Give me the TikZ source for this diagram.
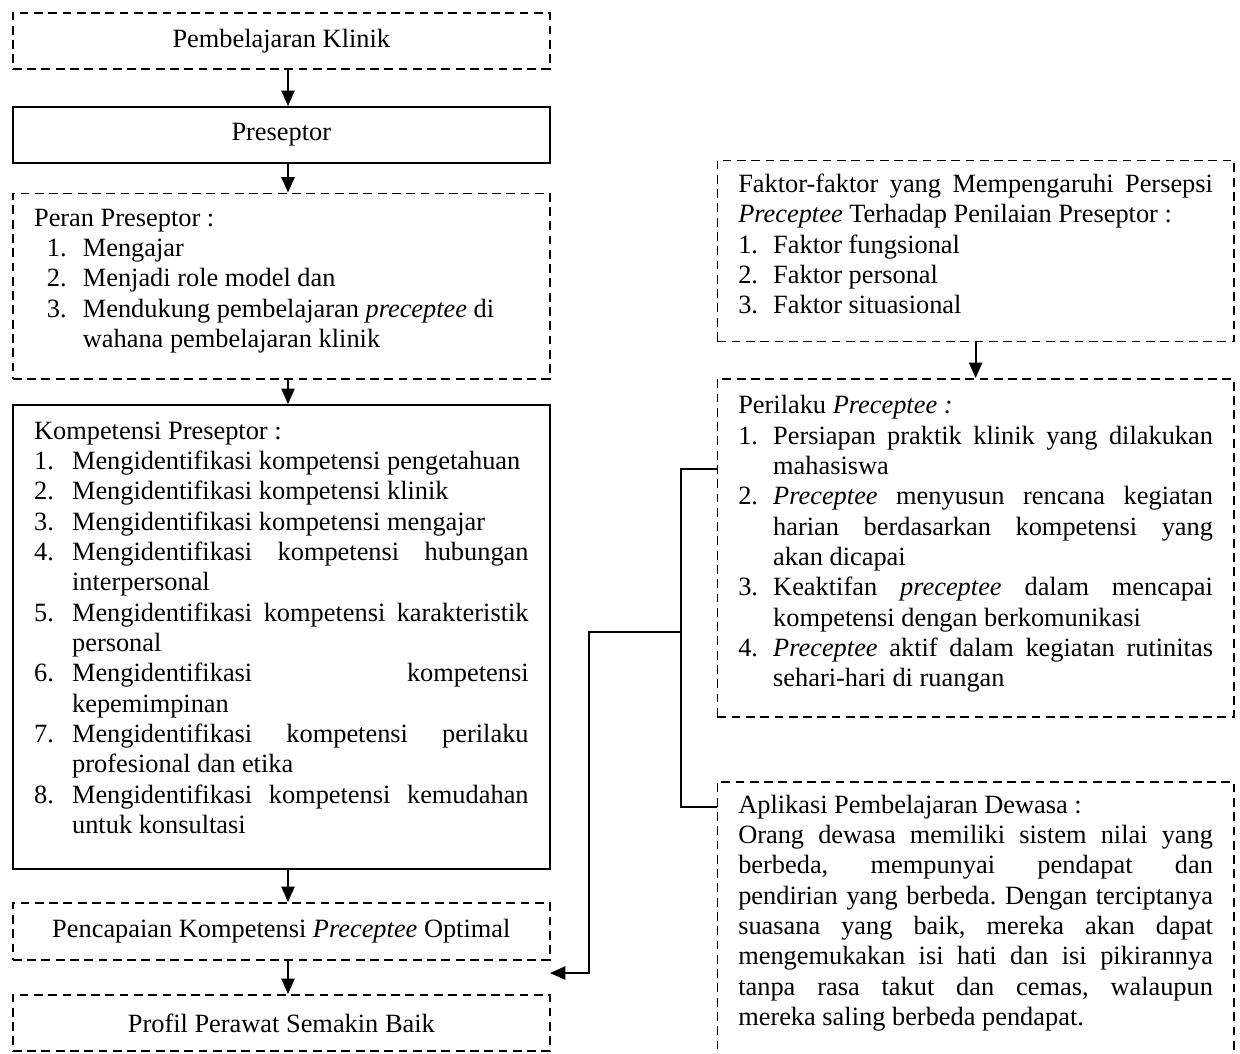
\documentclass[tikz,border=0pt]{standalone}
\usepackage{fontspec}
\setmainfont{Liberation Serif}
\usetikzlibrary{arrows.meta}
\tikzset{>={Triangle[length=7pt,width=6pt]}}
\tikzset{
	boxline/.style={draw,line width=0.8pt,anchor=north west,inner ysep=0pt,
		font=\fontsize{12}{13.8}\selectfont},
	solidbox/.style={boxline},
	dashbox/.style={boxline,dash pattern=on 4pt off 2.5pt},
	onerow/.style={minimum width=244.3pt,inner xsep=0pt},
	conn/.style={line width=0.8pt},
}
\newcommand{\nitem}[3]{\par\noindent\hangindent=#2\hangafter=1\hspace*{#1}\makebox[\dimexpr#2-#1\relax][l]{#3}\ignorespaces}
\hyphenpenalty=10000 \exhyphenpenalty=10000 \tolerance=10000 \hbadness=10000
\frenchspacing

\begin{document}
\begin{tikzpicture}[x=0.455pt,y=-0.455pt]
	\useasboundingbox (0,0) rectangle (1240,1053);
	\clip (0,0) rectangle (1240,1053);
	
	\node[dashbox,onerow,minimum height=25.5pt] (pk) at (12,12) {Pembelajaran Klinik};
	\node[solidbox,onerow,minimum height=25.5pt] (pre) at (12,106) {Preseptor};
	
	\node[dashbox,inner xsep=9.65pt] (per) at (12,192.5) {\parbox[t][84.4pt][t]{225pt}{\vspace*{5.3pt}\strut Peran Preseptor :
		\nitem{5.8pt}{22.2pt}{1.}Mengajar
		\nitem{5.8pt}{22.2pt}{2.}Menjadi role model dan
		\nitem{5.8pt}{22.2pt}{3.}Mendukung pembelajaran \textit{preceptee} di\newline wahana pembelajaran klinik}};
	
	\node[solidbox,inner xsep=9.65pt] (kom) at (12,404) {\parbox[t][211.1pt][t]{225pt}{\vspace*{6pt}\strut Kompetensi Preseptor :
		\nitem{0pt}{17.3pt}{1.}Mengidentifikasi kompetensi pengetahuan
		\nitem{0pt}{17.3pt}{2.}Mengidentifikasi kompetensi klinik
		\nitem{0pt}{17.3pt}{3.}Mengidentifikasi kompetensi mengajar
		\nitem{0pt}{17.3pt}{4.}Mengidentifikasi kompetensi hubungan\linebreak interpersonal
		\nitem{0pt}{17.3pt}{5.}Mengidentifikasi kompetensi karakteristik\linebreak personal
		\nitem{0pt}{17.3pt}{6.}Mengidentifikasi kompetensi\linebreak kepemimpinan
		\nitem{0pt}{17.3pt}{7.}Mengidentifikasi kompetensi perilaku\linebreak profesional dan etika
		\nitem{0pt}{17.3pt}{8.}Mengidentifikasi kompetensi kemudahan\linebreak untuk konsultasi}};
	
	\node[dashbox,onerow,minimum height=25.9pt] (pcp) at (12,902) {Pencapaian Kompetensi \textit{Preceptee} Optimal};
	\node[dashbox,onerow,minimum height=25.5pt] (pro) at (12,994) {Profil Perawat Semakin Baik};
	
	\node[dashbox,inner xsep=9.5pt] (fak) at (716.5,159.5) {\parbox[t][82.4pt][t]{216pt}{\vspace*{5pt}\strut Faktor-faktor yang Mempengaruhi Persepsi\linebreak \textit{Preceptee} Terhadap Penilaian Preseptor :
		\nitem{0pt}{15.9pt}{1.}Faktor fungsional
		\nitem{0pt}{15.9pt}{2.}Faktor personal
		\nitem{0pt}{15.9pt}{3.}Faktor situasional}};
	
	\node[dashbox,inner xsep=9.5pt] (pri) at (716.5,378) {\parbox[t][153.8pt][t]{216pt}{\vspace*{6.3pt}\strut Perilaku \textit{Preceptee :}
		\nitem{0pt}{15.9pt}{1.}Persiapan praktik klinik yang dilakukan\linebreak mahasiswa
		\nitem{0pt}{15.9pt}{2.}\textit{Preceptee} menyusun rencana kegiatan\linebreak harian berdasarkan kompetensi yang\linebreak akan dicapai
		\nitem{0pt}{15.9pt}{3.}Keaktifan \textit{preceptee} dalam mencapai\linebreak kompetensi dengan berkomunikasi
		\nitem{0pt}{15.9pt}{4.}\textit{Preceptee} aktif dalam kegiatan rutinitas\linebreak sehari-hari di ruangan}};
	
	\node[dashbox,inner xsep=9.5pt] (apl) at (716.5,781) {\parbox[t][133.8pt][t]{216pt}{\vspace*{4.5pt}\strut Aplikasi Pembelajaran Dewasa :\par
		Orang dewasa memiliki sistem nilai yang\linebreak berbeda, mempunyai pendapat dan\linebreak pendirian yang berbeda. Dengan terciptanya\linebreak suasana yang baik, mereka akan dapat\linebreak mengemukakan isi hati dan isi pikirannya\linebreak tanpa rasa takut dan cemas, walaupun\linebreak mereka saling berbeda pendapat.}};
	
	\coordinate (ax) at (288,0);
	\draw[conn,->] (pk.south -| ax) -- (pre.north -| ax);
	\draw[conn,->] (pre.south -| ax) -- (per.north -| ax);
	\draw[conn,->] (per.south -| ax) -- (kom.north -| ax);
	\draw[conn,->] (kom.south -| ax) -- (pcp.north -| ax);
	\draw[conn,->] (pcp.south -| ax) -- (pro.north -| ax);
	\draw[conn,->] (fak.south) -- (pri.north);
	
	\coordinate (jt) at (681,469);
	\coordinate (jb) at (681,807);
	\coordinate (jm) at (681,632);
	\coordinate (lm) at (589,632);
	\coordinate (tip) at (550,973);
	\draw[conn] (jt -| pri.west) -- (jt) -- (jb) -- (jb -| apl.west);
	\draw[conn,->] (jm) -- (lm) -- (lm |- tip) -- (tip);
\end{tikzpicture}
\end{document}
